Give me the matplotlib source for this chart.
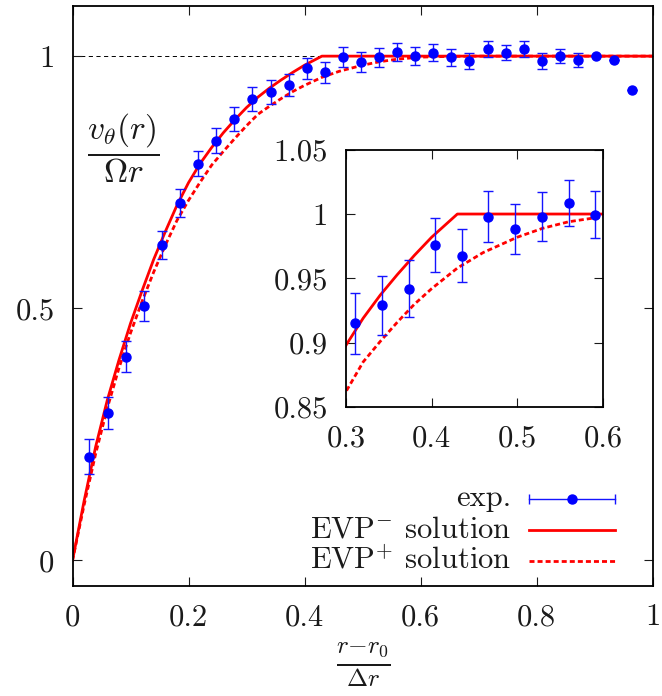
import matplotlib
matplotlib.use('Agg')
import matplotlib.pyplot as plt
from matplotlib.lines import Line2D
from matplotlib.legend_handler import HandlerBase

plt.rcParams['font.family'] = ['cmr10', 'DejaVu Serif']
plt.rcParams['mathtext.fontset'] = 'cm'
plt.rcParams['axes.unicode_minus'] = False
plt.rcParams['axes.formatter.use_mathtext'] = True
plt.rcParams['lines.scale_dashes'] = False

# ---------------- data ----------------
x_exp = [0.029, 0.061, 0.093, 0.124, 0.155, 0.186, 0.217, 0.248, 0.279, 0.310,
         0.342, 0.373, 0.404, 0.435, 0.466, 0.497, 0.529, 0.560, 0.591, 0.622,
         0.653, 0.684, 0.716, 0.747, 0.778, 0.809, 0.840, 0.871, 0.903, 0.934, 0.965]
y_exp = [0.206, 0.293, 0.404, 0.5045, 0.626, 0.709, 0.787, 0.832, 0.876, 0.915,
         0.929, 0.942, 0.9756, 0.9676, 0.998, 0.9885, 0.998, 1.0087, 0.9996, 1.007,
         0.998, 0.990, 1.015, 1.007, 1.0137, 0.990, 1.000, 0.992, 1.000, 0.993, 0.9325]
yerr_exp = [0.035, 0.032, 0.031, 0.030, 0.028, 0.027, 0.025, 0.025, 0.024, 0.0235,
            0.023, 0.022, 0.021, 0.0205, 0.020, 0.0195, 0.019, 0.018, 0.018, 0.0175,
            0.017, 0.016, 0.016, 0.0155, 0.0155, 0.0155, 0.0145, 0.014, 0.0, 0.0, 0.0]

x_minus = [0.0, 0.02, 0.04, 0.06, 0.08, 0.10, 0.12, 0.14, 0.16, 0.18, 0.20, 0.22,
           0.24, 0.26, 0.28, 0.30, 0.32, 0.34, 0.36, 0.38, 0.40, 0.43, 1.0]
y_minus = [0.0, 0.118, 0.226, 0.318, 0.397, 0.470, 0.535, 0.597, 0.652, 0.704, 0.749, 0.787,
           0.819, 0.848, 0.874, 0.898, 0.919, 0.937, 0.953, 0.968, 0.982, 1.0, 1.0]

x_plus = [0.0, 0.02, 0.04, 0.06, 0.08, 0.10, 0.12, 0.14, 0.16, 0.18, 0.20, 0.22, 0.24,
          0.26, 0.28, 0.30, 0.32, 0.34, 0.36, 0.38, 0.40, 0.43, 0.46, 0.50, 0.53, 0.56,
          0.60, 0.65, 0.70, 1.0]
y_plus = [0.0, 0.110, 0.212, 0.302, 0.381, 0.451, 0.514, 0.572, 0.625, 0.674, 0.714, 0.750, 0.784,
          0.811, 0.837, 0.862, 0.885, 0.901, 0.916, 0.930, 0.942, 0.958, 0.970, 0.982, 0.989, 0.994,
          0.998, 0.9995, 1.0, 1.0]

main_xticks = [0, 0.2, 0.4, 0.6, 0.8, 1]
main_xticklabels = ['0', '0.2', '0.4', '0.6', '0.8', '1']
main_yticks = [0, 0.5, 1]
main_yticklabels = ['0', '0.5', '1']
inset_xticks = [0.3, 0.4, 0.5, 0.6]
inset_xticklabels = ['0.3', '0.4', '0.5', '0.6']
inset_yticks = [0.85, 0.9, 0.95, 1.0, 1.05]
inset_yticklabels = ['0.85', '0.9', '0.95', '1', '1.05']

labels = ['exp.', r'EVP$^{-}$ solution', r'EVP$^{+}$ solution']

# ---------------- style ----------------
BLUE = '#0000ff'
EBLUE = '#1414ff'
RED = '#ff0000'
TXT = '#1a1a1a'
FS = 22
HANDLE_Y = 0.24  # height of legend sample above text baseline, in em


class HErr(HandlerBase):
    def create_artists(self, legend, orig_handle, xdescent, ydescent, width,
                       height, fontsize, trans):
        y = HANDLE_Y * fontsize
        x0, x1 = -xdescent, width - xdescent
        ln = Line2D([x0, x1], [y, y], color=EBLUE, lw=1.0, transform=trans)
        caps = Line2D([x0, x1], [y, y], ls='none', marker='|', ms=6.5, mew=1.0,
                      color=EBLUE, transform=trans)
        dot = Line2D([(x0 + x1) / 2], [y], ls='none', marker='o', ms=6.5,
                     color=BLUE, transform=trans)
        return [ln, caps, dot]


class HLine(HandlerBase):
    def create_artists(self, legend, orig_handle, xdescent, ydescent, width,
                       height, fontsize, trans):
        y = HANDLE_Y * fontsize
        x0, x1 = -xdescent, width - xdescent
        ln = Line2D([x0, x1], [y, y])
        ln.update_from(orig_handle)
        ln.set_data([x0, x1], [y, y])
        ln.set_transform(trans)
        return [ln]


def style_axes(a):
    a.tick_params(direction='in', length=6.5, width=0.8, top=True, right=True,
                  pad=13, labelsize=FS, colors=TXT)
    for s in a.spines.values():
        s.set_linewidth(1.3)
        s.set_color('k')


def draw(a):
    l1, = a.plot(x_minus, y_minus, color=RED, lw=2.0, zorder=2)
    l2, = a.plot(x_plus, y_plus, color=RED, lw=2.0, dashes=(3.6, 2.2), zorder=2)
    eb = a.errorbar(x_exp, y_exp, yerr=yerr_exp, fmt='o', color=BLUE, ms=6.5,
                    ecolor=EBLUE, elinewidth=1.0, capsize=3.3, capthick=1.0, zorder=3)
    return eb, l1, l2


fig = plt.figure(figsize=(6.62, 6.96), dpi=100)
ax = fig.add_axes([72.5 / 662, (696 - 585.7) / 696, 580 / 662, 580 / 696])
ax.axhline(1.0, color='k', lw=0.7, dashes=(3.0, 2.5), zorder=1)
eb, l1, l2 = draw(ax)
ax.set_xlim(0, 1)
ax.set_ylim(-0.05, 1.1)
ax.set_xticks(main_xticks)
ax.set_xticklabels(main_xticklabels)
ax.set_yticks(main_yticks)
ax.set_yticklabels(main_yticklabels)
style_axes(ax)

ax.text(0.087, 0.818, r'$\dfrac{v_\theta(r)}{\Omega r}$', fontsize=24,
        ha='center', va='center', color=TXT)
fig.text(363 / 662, 1 - 665 / 696, r'$\frac{r{-}r_0}{\Delta r}$', fontsize=26,
         ha='center', va='center', color=TXT)

leg = ax.legend([eb, l1, l2], labels, loc='lower right', bbox_to_anchor=(0.935, 0.017),
                frameon=False, markerfirst=False, handlelength=2.8, handletextpad=0.6,
                handleheight=1.4, labelspacing=-0.14, borderpad=0, borderaxespad=0,
                fontsize=FS, handler_map={eb: HErr(), l1: HLine(), l2: HLine()})
for t in leg.get_texts():
    t.set_color(TXT)

ins = fig.add_axes([346 / 662, (696 - 407) / 696, 257 / 662, 257.3 / 696])
draw(ins)
ins.set_xlim(0.3, 0.6)
ins.set_ylim(0.85, 1.05)
ins.set_xticks(inset_xticks)
ins.set_xticklabels(inset_xticklabels)
ins.set_yticks(inset_yticks)
ins.set_yticklabels(inset_yticklabels)
style_axes(ins)

fig.savefig('out.png', dpi=100)
